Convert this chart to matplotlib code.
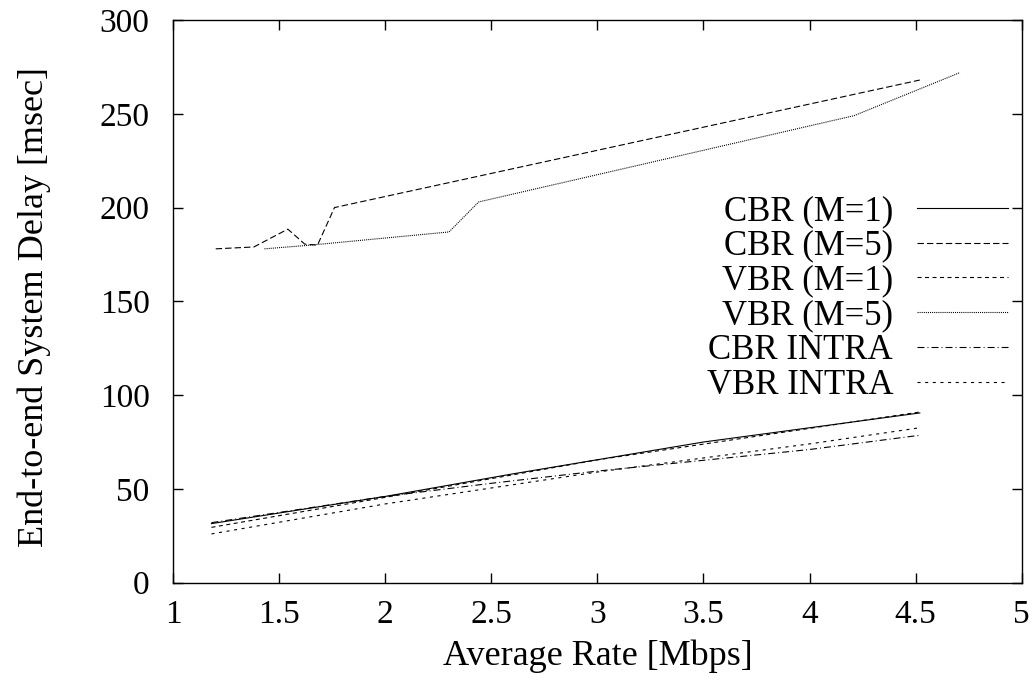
import matplotlib
matplotlib.use('Agg')
import matplotlib.pyplot as plt

# average rate [Mbps] vs end-to-end delay [msec]
cbr_m1_x = [1.18, 2.0, 2.6, 3.5, 4.52]
cbr_m1_y = [31.5, 46.0, 58.0, 75.0, 90.5]

cbr_m5_x = [1.2, 1.38, 1.54, 1.62, 1.68, 1.76, 4.52]
cbr_m5_y = [178.0, 179.0, 188.5, 180.5, 180.0, 200.0, 268.0]

vbr_m1_x = [1.18, 2.0, 3.0, 4.52]
vbr_m1_y = [29.5, 45.5, 65.5, 91.0]

vbr_m5_x = [1.43, 1.65, 2.30, 2.44, 4.21, 4.71]
vbr_m5_y = [178.0, 180.0, 187.0, 203.0, 249.0, 272.0]

cbr_intra_x = [1.18, 2.0, 2.5, 3.0, 4.0, 4.52]
cbr_intra_y = [32.0, 46.0, 53.0, 59.5, 71.0, 78.6]

vbr_intra_x = [1.18, 2.0, 3.0, 4.0, 4.52]
vbr_intra_y = [26.0, 42.0, 59.0, 74.0, 82.6]

plt.rcParams['font.family'] = ['Liberation Serif', 'DejaVu Serif']
plt.rcParams['lines.scale_dashes'] = False

fig = plt.figure(figsize=(10.34, 6.95), dpi=100)
ax = fig.add_axes([0.1676, 0.1616, 0.988 - 0.1676, 0.9712 - 0.1616])

lw = 0.8
ax.plot(cbr_m1_x, cbr_m1_y, color='k', lw=lw, linestyle='-', label='CBR (M=1)')
ax.plot(cbr_m5_x, cbr_m5_y, color='k', lw=lw, linestyle=(0, (4.6, 2.2)),
        label='CBR (M=5)')
ax.plot(vbr_m1_x, vbr_m1_y, color='k', lw=lw, linestyle=(0, (2.9, 2.5)),
        label='VBR (M=1)')
ax.plot(vbr_m5_x, vbr_m5_y, color='k', lw=lw, linestyle=(0, (0.75, 0.75)),
        label='VBR (M=5)')
ax.plot(cbr_intra_x, cbr_intra_y, color='k', lw=lw,
        linestyle=(0, (5.0, 2.2, 0.7, 2.2)), label='CBR INTRA')
ax.plot(vbr_intra_x, vbr_intra_y, color='k', lw=lw,
        linestyle=(0, (2.2, 3.3)), label='VBR INTRA')

ax.set_xlim(1, 5)
ax.set_ylim(0, 300)
ax.set_xticks([1, 1.5, 2, 2.5, 3, 3.5, 4, 4.5, 5])
ax.set_xticklabels(['1', '1.5', '2', '2.5', '3', '3.5', '4', '4.5', '5'])
ax.set_yticks([0, 50, 100, 150, 200, 250, 300])

for sp in ax.spines.values():
    sp.set_linewidth(1.0)
ax.tick_params(direction='in', length=7, width=1.0, top=True, right=True,
               labelsize=24)
ax.tick_params(axis='x', pad=12)
ax.tick_params(axis='y', pad=17)

ax.set_xlabel('Average Rate [Mbps]', fontsize=26, labelpad=7)
ax.set_ylabel('End-to-end System Delay [msec]', fontsize=26)
ax.yaxis.set_label_coords(-0.144, 0.49)

ax.legend(loc='upper right', bbox_to_anchor=(1008 / 1034, 1 - 195 / 695),
          bbox_transform=fig.transFigure, frameon=False, markerfirst=False,
          fontsize=25, handlelength=2.62, handletextpad=0.69,
          labelspacing=0.05, borderpad=0, borderaxespad=0)

fig.savefig('out.png', dpi=100)
